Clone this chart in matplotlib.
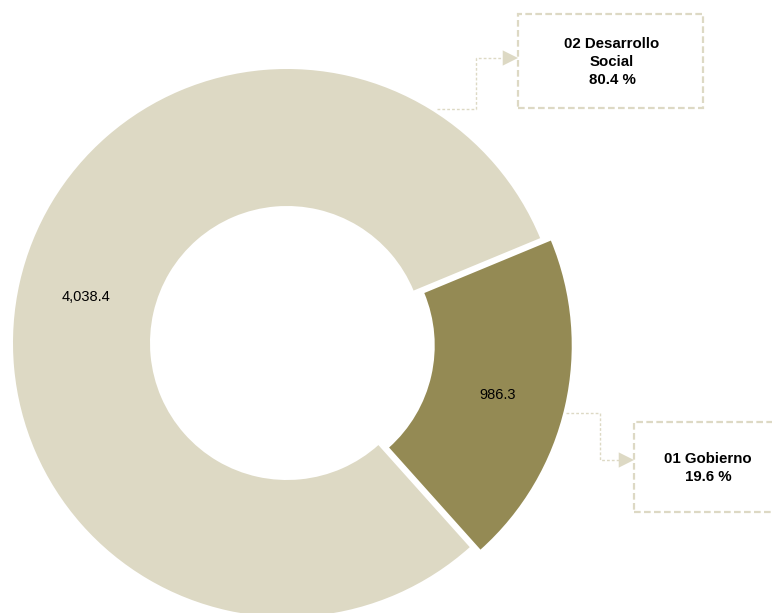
import matplotlib.pyplot as plt
from matplotlib.patches import Rectangle

plt.rcParams["font.family"] = ["Liberation Sans", "DejaVu Sans"]

# data
categories = ["01 Gobierno", "02 Desarrollo\nSocial"]
values = [986.3, 4038.4]
percents = [19.6, 80.4]
value_labels = ["986.3", "4,038.4"]
colors = ["#948A54", "#DDD9C4"]
line_col = "#DDD9C4"

W, H = 772, 613
fig = plt.figure(figsize=(W / 100, H / 100), dpi=100)
ax = fig.add_axes([0, 0, 1, 1])

# pie centre in pixel coords (y measured from bottom)
cx, cy = 287, H - 343
R = 274

# explode is an absolute offset here (pixel units)
wedges, _ = ax.pie(values, colors=colors, radius=R, center=(cx, cy),
                   startangle=22.5, counterclock=False, explode=[11, 0],
                   wedgeprops=dict(width=R * 0.5, edgecolor="white", linewidth=0),
                   frame=True)
ax.set_xlim(0, W)
ax.set_ylim(0, H)
ax.set_aspect("equal")
ax.axis("off")

# value labels inside ring
ax.text(498, H - 395, value_labels[0], ha="center", va="center", fontsize=10.5)
ax.text(86, H - 297, value_labels[1], ha="center", va="center", fontsize=10.5)

arrow = dict(arrowstyle="-|>,head_length=1.1,head_width=0.55", color=line_col,
             lw=0, shrinkA=0, shrinkB=0)

# callout for Desarrollo Social
ax.plot([437, 476, 476, 506], [H - 109, H - 109, H - 58, H - 58],
        color=line_col, lw=1, ls=(0, (2, 1.5)))
ax.annotate("", xy=(518, H - 58), xytext=(503, H - 58), arrowprops=arrow)
ax.add_patch(Rectangle((518, H - 108), 185, 94, fill=False, ec=line_col,
                       lw=1.6, ls=(0, (3, 1.5))))
ax.text(612, H - 62, f"{categories[1]}\n{percents[1]:.1f} %", ha="center",
        va="center", fontsize=10.8, fontweight="bold", linespacing=1.35)

# callout for Gobierno
ax.plot([566, 600, 600, 622], [H - 413, H - 413, H - 460, H - 460],
        color=line_col, lw=1, ls=(0, (2, 1.5)))
ax.annotate("", xy=(634, H - 460), xytext=(619, H - 460), arrowprops=arrow)
ax.add_patch(Rectangle((634, H - 512), 145, 90, fill=False, ec=line_col,
                       lw=1.6, ls=(0, (3, 1.5))))
ax.text(708, H - 468, f"{categories[0]}\n{percents[0]:.1f} %", ha="center",
        va="center", fontsize=10.8, fontweight="bold", linespacing=1.35)

fig.savefig("out.png", dpi=100)
